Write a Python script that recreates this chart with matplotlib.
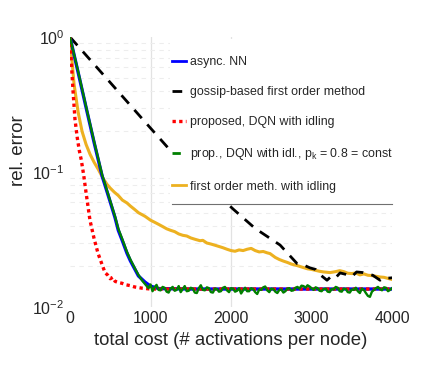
import matplotlib
matplotlib.use("Agg")
import matplotlib.pyplot as plt
from matplotlib.patches import Rectangle
from matplotlib.lines import Line2D

plt.rcParams['font.family'] = ['Liberation Sans', 'DejaVu Sans']
plt.rcParams['mathtext.fontset'] = 'custom'
plt.rcParams['mathtext.rm'] = 'Liberation Sans'
plt.rcParams['mathtext.it'] = 'Liberation Sans:italic'
txt = '#262626'

# async. NN
cost_blue = [0, 100, 200, 300, 400, 500, 559, 600, 650, 708, 750, 807, 850, 932, 1000, 1100, 1500, 2000, 2500, 3000, 3500, 4000]
err_blue = [1.0, 0.55, 0.30, 0.165, 0.093, 0.060, 0.046, 0.037, 0.031, 0.025, 0.022, 0.019, 0.017, 0.0153, 0.0143, 0.0137,
            0.0136, 0.0136, 0.0136, 0.0136, 0.0136, 0.0136]

# gossip-based first order method
cost_black = [0, 500, 932, 1267, 1600, 2029, 2298, 2609, 2820, 2900, 2981, 3050, 3100, 3192, 3250, 3300, 3354, 3420,
              3500, 3560, 3640, 3700, 3760, 3851, 3900, 3975, 4000]
err_black = [1.0, 0.46, 0.235, 0.14, 0.092, 0.053, 0.0383, 0.0288, 0.021, 0.0205, 0.0195, 0.019, 0.0175, 0.0158, 0.017,
             0.0165, 0.0179, 0.0175, 0.0168, 0.0182, 0.018, 0.0176, 0.0172, 0.0158, 0.0165, 0.0164, 0.0165]

# proposed, DQN with idling
cost_red = [0, 20, 40, 62, 90, 115, 140, 170, 200, 248, 300, 348, 400, 435, 470, 500, 530, 560, 600, 646, 700, 750,
            800, 894, 1000, 1500, 2000, 2500, 3000, 3500, 4000]
err_red = [1.0, 0.6, 0.38, 0.245, 0.18, 0.145, 0.123, 0.095, 0.07, 0.044, 0.032, 0.025, 0.0205, 0.018, 0.0172, 0.0162,
           0.0166, 0.0155, 0.0152, 0.015, 0.0146, 0.0144, 0.0141, 0.0138, 0.0136, 0.0136, 0.0136, 0.0136, 0.0136,
           0.0136, 0.0136]

# prop., DQN with idl., p_k = 0.8 = const  (decay part, then the noisy floor sampled every 25 activations)
cost_green_head = [0, 100, 200, 300, 400, 500, 559, 600, 650, 708, 750, 807, 850, 900]
err_green_head = [1.0, 0.56, 0.305, 0.168, 0.095, 0.061, 0.047, 0.038, 0.0318, 0.0256, 0.0225, 0.0193, 0.0173, 0.0156]
cost_green_tail = list(range(950, 4001, 25))
err_green_tail = [
    0.0144, 0.0138, 0.0147, 0.0131, 0.0140, 0.0146, 0.0134, 0.0133, 0.0141, 0.0139,
    0.0130, 0.0128, 0.0137, 0.0141, 0.0132, 0.0134, 0.0143, 0.0129, 0.0136, 0.0143,
    0.0131, 0.0132, 0.0139, 0.0137, 0.0128, 0.0127, 0.0138, 0.0145, 0.0134, 0.0133,
    0.0140, 0.0138, 0.0129, 0.0128, 0.0137, 0.0136, 0.0130, 0.0131, 0.0139, 0.0141,
    0.0133, 0.0129, 0.0138, 0.0137, 0.0130, 0.0132, 0.0138, 0.0126, 0.0133, 0.0139,
    0.0131, 0.0131, 0.0138, 0.0136, 0.0129, 0.0125, 0.0135, 0.0134, 0.0140, 0.0142,
    0.0133, 0.0129, 0.0137, 0.0136, 0.0130, 0.0127, 0.0134, 0.0135, 0.0128, 0.0131,
    0.0137, 0.0138, 0.0132, 0.0133, 0.0139, 0.0141, 0.0137, 0.0144, 0.0143, 0.0139,
    0.0145, 0.0142, 0.0138, 0.0134, 0.0140, 0.0138, 0.0132, 0.0131, 0.0136, 0.0137,
    0.0130, 0.0129, 0.0136, 0.0135, 0.0141, 0.0139, 0.0131, 0.0130, 0.0137, 0.0136,
    0.0129, 0.0128, 0.0135, 0.0134, 0.0139, 0.0131, 0.0127, 0.0137, 0.0134, 0.0127,
    0.0121, 0.0119, 0.0130, 0.0134, 0.0138, 0.0141, 0.0136, 0.0133, 0.0140, 0.0139,
    0.0131, 0.0134, 0.0138]
cost_green = cost_green_head + cost_green_tail
err_green = err_green_head + err_green_tail

# first order meth. with idling
cost_orange = [0, 50, 100, 150, 200, 250, 300, 350, 410, 460, 500, 550, 600, 650, 708, 750, 800, 850, 932, 1000,
               1050, 1100, 1150, 1200, 1250, 1300, 1350, 1400, 1450, 1500, 1550, 1615, 1650, 1700, 1750, 1800,
               1850, 1900, 1950, 2000, 2050, 2100, 2150, 2200, 2250, 2300, 2350, 2400, 2450, 2484, 2550, 2600,
               2650, 2700, 2750, 2820, 2900, 2950, 3000, 3050, 3100, 3150, 3230, 3300, 3350, 3400, 3450, 3500,
               3550, 3600, 3650, 3700, 3750, 3800, 3850, 3900, 3950, 4000]
err_orange = [1.0, 0.45, 0.28, 0.20, 0.16, 0.135, 0.118, 0.105, 0.09, 0.081, 0.076, 0.071, 0.067, 0.062, 0.059,
              0.056, 0.053, 0.050, 0.047, 0.044, 0.0425, 0.041, 0.0395, 0.038, 0.037, 0.0362, 0.0348, 0.034,
              0.0336, 0.0325, 0.0318, 0.031, 0.0312, 0.0298, 0.0293, 0.0287, 0.0281, 0.0275, 0.0268, 0.0262,
              0.0259, 0.0265, 0.0262, 0.0268, 0.0272, 0.0262, 0.0256, 0.0258, 0.0252, 0.0249, 0.0233, 0.0225,
              0.0219, 0.0214, 0.0208, 0.0203, 0.0196, 0.0192, 0.019, 0.0187, 0.0184, 0.0182, 0.018, 0.0183,
              0.0186, 0.0183, 0.0178, 0.0177, 0.0179, 0.0173, 0.0176, 0.0172, 0.0171, 0.0169, 0.0167, 0.0166,
              0.0163, 0.016]

fig = plt.figure(figsize=(4.43, 3.74), dpi=100)
ax = fig.add_axes([0.158, 0.179, 0.727, 0.722])

ax.plot(cost_orange, err_orange, color='#edb120', lw=2.2, zorder=3)
ax.plot(cost_black, err_black, color='black', lw=2, ls=(0, (4, 3)), zorder=3)
ax.plot(cost_blue, err_blue, color='#0000ff', lw=2.4, zorder=4)
ax.plot(cost_red, err_red, color='#ff0000', lw=2.4, ls=(0, (1, 1)), zorder=4)
ax.plot(cost_green, err_green, color='#008000', lw=1.7, zorder=5)

ax.set_yscale('log')
ax.set_xlim(0, 4000)
ax.set_ylim(0.01, 1)
ax.set_xticks([0, 1000, 2000, 3000, 4000])
for s in ax.spines.values():
    s.set_visible(False)
ax.tick_params(which='both', length=0, labelsize=11.5, colors=txt)
ax.tick_params(axis='x', pad=3)
ax.tick_params(axis='y', pad=4)
ax.yaxis.grid(True, which='minor', ls=(0, (4, 4)), color='#ededed', lw=0.8)
for gx in [1000, 2000]:
    ax.axvline(gx, color='#e2e2e2', lw=0.9, zorder=0)

ax.set_xlabel('total cost (# activations per node)', fontsize=13.4, color=txt, labelpad=4)
ax.set_ylabel('rel. error', fontsize=13.5, color=txt)
ax.yaxis.set_label_coords(-0.135, 0.58)

# legend panel covering the upper right part of the plot
ax.add_patch(Rectangle((0.31, 0.381), 0.70, 0.61, transform=ax.transAxes, facecolor='white',
                       edgecolor='none', zorder=6, clip_on=False))
ax.plot([0.317, 1.0], [0.381, 0.381], transform=ax.transAxes, color='#707070', lw=0.8, zorder=7, clip_on=False)

leg_handles = [
    Line2D([], [], color='#0000ff', lw=2),
    Line2D([], [], color='black', lw=2, ls=(0, (3.5, 3))),
    Line2D([], [], color='#ff0000', lw=2.4, ls=(0, (1, 1))),
    Line2D([], [], color='#008000', lw=2, ls=(0, (3, 3))),
    Line2D([], [], color='#edb120', lw=2),
]
leg_labels = ['async. NN', 'gossip-based first order method', 'proposed, DQN with idling',
              r'prop., DQN with idl., p$_\mathregular{k}$ = 0.8 = const', 'first order meth. with idling']
leg = ax.legend(leg_handles, leg_labels, loc='upper left', bbox_to_anchor=(0.318, 0.93), frameon=False,
                fontsize=8.9, handlelength=1.1, handletextpad=0.35, labelspacing=1.47, borderaxespad=0,
                borderpad=0)
leg.set_zorder(8)
for t in leg.get_texts():
    t.set_color(txt)

fig.savefig('out.png', dpi=100)
